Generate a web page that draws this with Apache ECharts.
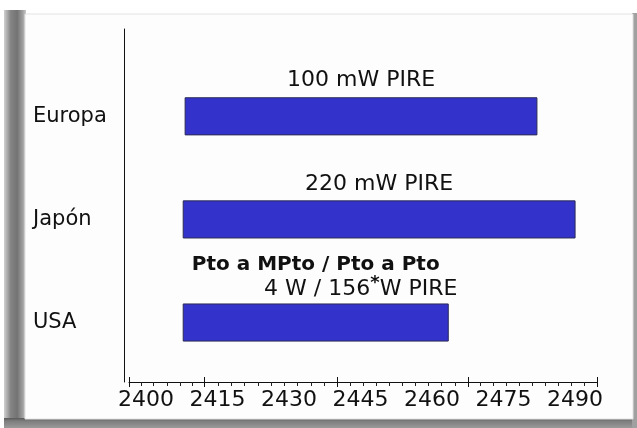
<!DOCTYPE html>
<html>
<head>
<meta charset="utf-8">
<script src="https://cdn.jsdelivr.net/npm/echarts@6/dist/echarts.min.js"></script>
<style>html,body{margin:0;padding:0;background:#fff}#c{width:637px;height:428px}</style>
</head>
<body>
<div id="c"></div>
<script>
// ---- data ----
const categories = ['Europa', 'Japón', 'USA'];
const bandStart = [2408.2, 2407.8, 2407.8];
const bandEnd = [2482.0, 2490.0, 2463.4];
const barLabels = ['100 mW PIRE', '220 mW PIRE', '4 W / 156*W PIRE'];
const barNotes = ['', '', 'Pto a MPto / Pto a Pto'];
const xTickLabels = [2400, 2415, 2430, 2445, 2460, 2475, 2490];
const xMin = 2396.43, xMax = 2494.6;
const majorTicks = [2396.43, 2412.3, 2440.1, 2467.5, 2494.6];
const minorTicks = [2398.9, 2401.6, 2404.4, 2407.1, 2409.8,
  2415.1, 2417.9, 2420.7, 2423.5, 2426.3, 2429.0, 2431.8, 2434.6, 2437.4,
  2442.8, 2445.6, 2448.3, 2451.1, 2453.8, 2456.5, 2459.3, 2462.0, 2464.8,
  2470.2, 2472.9, 2475.6, 2478.3, 2481.0, 2483.7, 2486.5, 2489.2, 2491.9];

const FONT = 'DejaVu Sans';
const chart = echarts.init(document.getElementById('c'), null, {renderer: 'canvas'});
const data = categories.map((c, i) => [i, bandStart[i], bandEnd[i]]);

function labelText(s) {
  const k = s.indexOf('*');
  if (k < 0) return '{n|' + s + '}';
  return '{n|' + s.slice(0, k) + '}{s|*}{n|' + s.slice(k + 1) + '}';
}

const baseX = {
  type: 'value', min: xMin, max: xMax, position: 'bottom', gridIndex: 0,
  splitLine: {show: false}, axisLine: {show: false, onZero: false},
  axisLabel: {show: false}, axisTick: {show: false}
};

chart.setOption({
  backgroundColor: '#ffffff',
  animation: false,
  graphic: [
    {type: 'rect', shape: {x: 4, y: 10, width: 22, height: 418}, z: -10,
     style: {fill: new echarts.graphic.LinearGradient(0, 0, 1, 0, [
       {offset: 0, color: '#d0d0d0'}, {offset: 0.3, color: '#858585'},
       {offset: 0.6, color: '#737373'}, {offset: 0.85, color: '#a0a0a0'},
       {offset: 1, color: '#c8c8c8'}])}},
    {type: 'rect', shape: {x: 4, y: 418, width: 633, height: 10}, z: -10,
     style: {fill: new echarts.graphic.LinearGradient(0, 0, 0, 1, [
       {offset: 0, color: '#5a5a5a'}, {offset: 0.3, color: '#7d7d7d'},
       {offset: 1, color: '#9a9a9a'}])}},
    {type: 'rect', shape: {x: 632, y: 13, width: 5, height: 415}, z: -10,
     style: {fill: '#a0a0a0'}},
    {type: 'rect', shape: {x: 25, y: 14, width: 608, height: 405}, z: -9,
     style: {fill: '#fdfdfd', stroke: '#e2e2e2', lineWidth: 1}}
  ],
  grid: {left: 129, right: 40, top: 29, bottom: 46, containLabel: false},
  xAxis: [
    Object.assign({}, baseX, {
      axisLine: {show: true, onZero: false, lineStyle: {color: '#111', width: 1}},
      axisLabel: {show: true, customValues: xTickLabels, margin: 7,
        fontFamily: FONT, fontSize: 22, color: '#111',
        formatter: v => String(v)},
      axisTick: {show: true, customValues: majorTicks, length: 5,
        lineStyle: {color: '#111', width: 1}}
    }),
    Object.assign({}, baseX, {
      axisTick: {show: true, inside: true, customValues: majorTicks, length: 5,
        lineStyle: {color: '#111', width: 1}}
    }),
    Object.assign({}, baseX, {
      axisTick: {show: true, customValues: minorTicks, length: 4,
        lineStyle: {color: '#222', width: 1}}
    })
  ],
  yAxis: {
    type: 'value', inverse: true, min: -0.847, max: 2.577, offset: 5,
    splitLine: {show: false},
    axisLine: {show: true, onZero: false, lineStyle: {color: '#111', width: 1}},
    axisTick: {show: false},
    axisLabel: {show: true, customValues: [0, 1, 2], align: 'left', margin: 91,
      fontFamily: FONT, fontSize: 21, color: '#111',
      formatter: v => categories[Math.round(v)]}
  },
  series: [{
    type: 'custom',
    xAxisIndex: 0,
    data: data,
    encode: {x: [1, 2], y: 0},
    renderItem: function (params, api) {
      const i = api.value(0);
      const p0 = api.coord([api.value(1), i]);
      const p1 = api.coord([api.value(2), i]);
      const h = api.size([0, 1])[1] * 0.36;
      const top = p0[1] - h / 2;
      const cx = (p0[0] + p1[0]) / 2;
      const note = barNotes[i];
      const sup = barLabels[i].indexOf('*') >= 0;
      const children = [{
        type: 'rect',
        shape: {x: p0[0], y: top, width: p1[0] - p0[0], height: h},
        style: {fill: '#3333cc', stroke: '#2a2a55', lineWidth: 1}
      }, {
        type: 'text',
        x: cx + (note ? 45 : 0), y: top - 6 + (sup ? 6 : 0),
        style: {
          text: labelText(barLabels[i]),
          align: 'center', verticalAlign: 'bottom',
          rich: {
            n: {fontFamily: FONT, fontSize: 22, fill: '#111'},
            s: {fontFamily: FONT, fontSize: 18, fontWeight: 'bold', fill: '#111',
                padding: [0, 0, 12, 0]}
          }
        }
      }];
      if (note) {
        children.push({
          type: 'text', x: cx, y: top - 29,
          style: {text: note, align: 'center', verticalAlign: 'bottom',
            fontFamily: FONT, fontSize: 20, fontWeight: 'bold', fill: '#111'}
        });
      }
      return {type: 'group', children: children};
    }
  }]
});
</script>
</body>
</html>
